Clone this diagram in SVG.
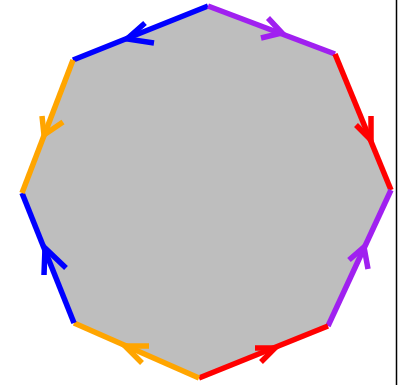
<svg xmlns="http://www.w3.org/2000/svg" width="398" height="385" viewBox="0 0 398 385">
<style>
.e{stroke-width:5.5;stroke-linecap:butt;fill:none}
.a{stroke-width:5.5;stroke-linecap:butt;stroke-linejoin:miter;fill:none}
.blue{stroke:#0000ff}.purple{stroke:#a020f0}.red{stroke:#ff0000}.orange{stroke:#ffa500}
</style>
<rect width="398" height="385" fill="#ffffff"/>
<g id="face">
<polygon points="208,6 335,54 391,190 328,326 199,378 74,323 22,193 73,60" fill="#bebebe"/>
</g>
<g id="edges">
<line class="e blue" x1="73" y1="60" x2="208" y2="6"/>
<line class="e purple" x1="208" y1="6" x2="335" y2="54"/>
<line class="e red" x1="335" y1="54" x2="391" y2="190"/>
<line class="e purple" x1="391" y1="190" x2="328" y2="326"/>
<line class="e red" x1="328" y1="326" x2="199" y2="378"/>
<line class="e orange" x1="199" y1="378" x2="74" y2="323"/>
<line class="e blue" x1="74" y1="323" x2="22" y2="193"/>
<line class="e orange" x1="22" y1="193" x2="73" y2="60"/>
</g>
<g id="arrows">
<polyline class="a blue" points="145,23 127,39 154,43"/>
<polyline class="a purple" points="268,18 282,33 261,38"/>
<polyline class="a red" points="371,116 371,140 356,125"/>
<polyline class="a purple" points="368,269 364,247 349,260"/>
<polyline class="a red" points="255,348 275,348 261,362"/>
<polyline class="a orange" points="149,346 125,346 142,363"/>
<polyline class="a blue" points="44,275 45,248 66,268"/>
<polyline class="a orange" points="42,116 44,135 63,122"/>
</g>
<line x1="396.5" y1="0" x2="396.5" y2="385" stroke="#000000" stroke-width="1.5"/>
</svg>
